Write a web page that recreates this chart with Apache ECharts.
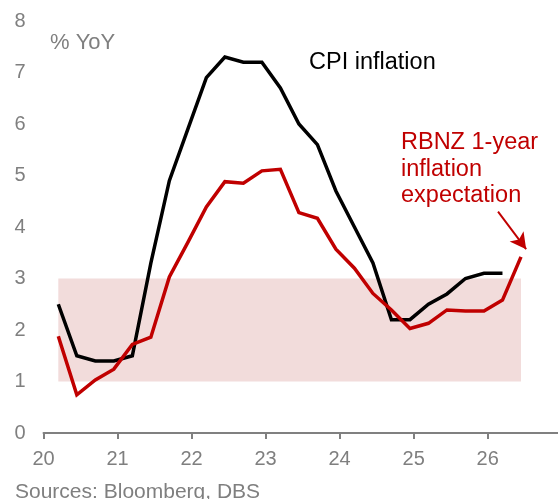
<!DOCTYPE html>
<html>
<head>
<meta charset="utf-8">
<script src="https://cdn.jsdelivr.net/npm/echarts@6/dist/echarts.min.js"></script>
<style>
  html, body { margin: 0; padding: 0; background: #fff; }
  #chart { width: 558px; height: 499px; }
</style>
</head>
<body>
<div id="chart"></div>
<script>
// quarterly observations, x in years since 2000 (Q1 2020 ... Q2 2026)
var quarters = [20.2, 20.45, 20.7, 20.95, 21.2, 21.45, 21.7, 21.95, 22.2, 22.45,
                22.7, 22.95, 23.2, 23.45, 23.7, 23.95, 24.2, 24.45, 24.7, 24.95,
                25.2, 25.45, 25.7, 25.95, 26.2, 26.45];
var cpi = [2.5, 1.5, 1.4, 1.4, 1.5, 3.3, 4.9, 5.9, 6.9, 7.3,
           7.2, 7.2, 6.7, 6.0, 5.6, 4.7, 4.0, 3.3, 2.2, 2.2,
           2.5, 2.7, 3.0, 3.1, 3.1];
var expectation = [1.88, 0.74, 1.03, 1.24, 1.72, 1.86, 3.03, 3.7, 4.39, 4.88,
                   4.85, 5.09, 5.12, 4.28, 4.17, 3.57, 3.2, 2.71, 2.39, 2.03,
                   2.13, 2.39, 2.37, 2.37, 2.58, 3.42];
var targetBand = [1, 3];
var yearTicks = [20, 21, 22, 23, 24, 25, 26];

function pairs(xs, ys) {
    return ys.map(function (v, i) { return [xs[i], v]; });
}

var font = '"Liberation Sans", Arial, sans-serif';
var grey = '#7f7f7f';

var dom = document.getElementById('chart');
var myChart = echarts.init(dom, null, {renderer: 'canvas'});

var option = {
    animation: false,
    grid: {left: 43.5, right: 0, top: 21, bottom: 66, containLabel: false},
    xAxis: {
        type: 'value',
        min: 20,
        max: 26.95,
        axisLine: {show: true, lineStyle: {color: '#808080', width: 2}},
        axisTick: {
            show: true, inside: false, length: 6, customValues: yearTicks,
            lineStyle: {color: '#808080', width: 2}
        },
        splitLine: {show: false},
        axisLabel: {
            margin: 16,
            color: grey,
            fontSize: 20,
            fontFamily: font,
            customValues: yearTicks
        }
    },
    yAxis: {
        type: 'value',
        min: 0,
        max: 8,
        interval: 1,
        axisLine: {show: false},
        axisTick: {show: false},
        splitLine: {show: false},
        axisLabel: {margin: 18, color: grey, fontSize: 20, fontFamily: font}
    },
    series: [
        {
            name: 'band',
            type: 'line',
            data: [],
            z: 1,
            silent: true,
            markArea: {
                silent: true,
                itemStyle: {color: '#f2dcdb'},
                data: [[
                    {coord: [quarters[0], targetBand[0]]},
                    {coord: [quarters[quarters.length - 1], targetBand[1]]}
                ]]
            }
        },
        {
            name: 'CPI inflation',
            type: 'line',
            data: pairs(quarters, cpi),
            showSymbol: false,
            z: 3,
            lineStyle: {color: '#000000', width: 3.5, join: 'miter'},
            itemStyle: {color: '#000000'}
        },
        {
            name: 'RBNZ 1-year inflation expectation',
            type: 'line',
            data: pairs(quarters, expectation),
            showSymbol: false,
            z: 4,
            lineStyle: {color: '#c00000', width: 3.5, join: 'miter'},
            itemStyle: {color: '#c00000'},
            markLine: {
                silent: true,
                symbol: ['none', 'arrow'],
                symbolSize: [13, 16],
                label: {show: false},
                lineStyle: {color: '#c00000', width: 2, type: 'solid'},
                data: [[{coord: [26.14, 4.3]}, {coord: [26.52, 3.57]}]]
            }
        }
    ],
    graphic: [
        {type: 'text', left: 50, top: 32, style: {text: '% YoY', fill: grey, font: '22px ' + font}},
        {type: 'text', left: 309, top: 51, style: {text: 'CPI inflation', fill: '#000', font: '23.5px ' + font}},
        {type: 'text', left: 401, top: 129, style: {
            text: 'RBNZ 1-year\ninflation\nexpectation', fill: '#c00000',
            font: '23.5px ' + font, lineHeight: 26.7}},
        {type: 'text', left: 171, top: 339, style: {text: '1-3% inflation target', fill: '#c0504d', font: '23.5px ' + font}},
        {type: 'text', left: 15, top: 482, style: {text: 'Sources: Bloomberg, DBS', fill: grey, font: '21px ' + font}}
    ]
};

if (option && typeof option === 'object') {
    myChart.setOption(option, true);
}
</script>
</body>
</html>
